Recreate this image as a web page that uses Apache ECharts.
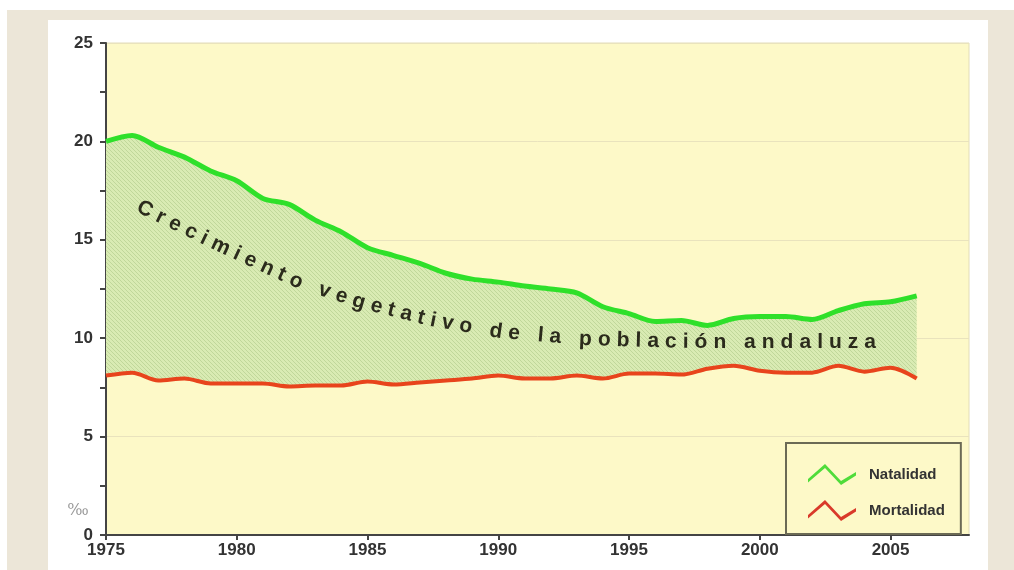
<!DOCTYPE html>
<html>
<head>
<meta charset="utf-8">
<script src="https://cdn.jsdelivr.net/npm/echarts@6/dist/echarts.min.js"></script>
<style>
  body { margin: 0; background: #fff; }
  #bg1 { position: absolute; left: 7px; top: 10px; width: 1007px; height: 560px; background: #ece6d8; }
  #bg2 { position: absolute; left: 48px; top: 20px; width: 940px; height: 550px; background: #fff; }
  #grafica { position: absolute; left: 0; top: 0; width: 1014px; height: 570px; }
</style>
</head>
<body>
<div id="bg1"></div>
<div id="bg2"></div>
<div id="grafica"></div>
<script>
// eje de 1975 a 2008, datos hasta 2006
const anios = ['1975', '1976', '1977', '1978', '1979', '1980', '1981', '1982', '1983', '1984', '1985', '1986',
  '1987', '1988', '1989', '1990', '1991', '1992', '1993', '1994', '1995', '1996', '1997', '1998', '1999', '2000',
  '2001', '2002', '2003', '2004', '2005', '2006', '2007', '2008'];
const natalidad = [20.0, 20.3, 19.7, 19.2, 18.5, 18.0, 17.1, 16.8, 16.0, 15.4, 14.6, 14.2, 13.8, 13.3, 13.0, 12.85,
  12.65, 12.5, 12.3, 11.6, 11.25, 10.85, 10.9, 10.65, 11.0, 11.1, 11.1, 10.95, 11.4, 11.75, 11.85, 12.15];
const mortalidad = [8.1, 8.25, 7.85, 7.95, 7.7, 7.7, 7.7, 7.55, 7.6, 7.6, 7.8, 7.65, 7.75, 7.85, 7.95, 8.1,
  7.95, 7.95, 8.1, 7.95, 8.2, 8.2, 8.15, 8.45, 8.6, 8.35, 8.25, 8.25, 8.6, 8.3, 8.5, 7.95];
const texto = 'Crecimiento vegetativo de la población andaluza';

// rayado del area entre las dos curvas
const rayado = () => {
  const c = document.createElement('canvas');
  c.width = 4; c.height = 4;
  const ctx = c.getContext('2d');
  ctx.fillStyle = '#d9ebb3';
  ctx.fillRect(0, 0, 4, 4);
  ctx.strokeStyle = '#c0d79a';
  ctx.lineWidth = 1;
  ctx.beginPath();
  ctx.moveTo(-1, -1); ctx.lineTo(5, 5);
  ctx.stroke();
  return c;
};

// texto curvo, letra por letra sobre una polilinea
const textoCurvo = (str, pts, font, color) => {
  const ctx = document.createElement('canvas').getContext('2d');
  ctx.font = font;
  const seg = [];
  let L = 0;
  for (let i = 1; i < pts.length; i++) {
    const dx = pts[i][0] - pts[i - 1][0], dy = pts[i][1] - pts[i - 1][1];
    const l = Math.hypot(dx, dy);
    seg.push({ a: pts[i - 1], dx, dy, l, s: L });
    L += l;
  }
  const at = s => {
    s = Math.max(0, Math.min(L - 1e-6, s));
    const g = seg.find(g => s < g.s + g.l) || seg[seg.length - 1];
    const t = (s - g.s) / g.l;
    return [g.a[0] + g.dx * t, g.a[1] + g.dy * t];
  };
  const chars = [...str];
  const w = chars.map(c => ctx.measureText(c).width);
  const W = w.reduce((a, b) => a + b, 0);
  const gap = (L - W) / (chars.length - 1);
  let s = 0;
  const els = [];
  chars.forEach((c, i) => {
    const sc = s + w[i] / 2;
    s += w[i] + gap;
    if (c === ' ') return;
    const p = at(sc), p1 = at(sc - 10), p2 = at(sc + 10);
    const ang = Math.atan2(p2[1] - p1[1], p2[0] - p1[0]);
    els.push({
      type: 'text', x: p[0], y: p[1], rotation: -ang, z: 100, silent: true,
      style: { text: c, font: font, fill: color, align: 'center', verticalAlign: 'middle' }
    });
  });
  return els;
};

const getOption = () => {
  const diferencia = natalidad.map((v, i) => +(v - mortalidad[i]).toFixed(2));
  const curva = [[138, 206], [220, 246], [300, 283], [360, 302], [430, 320], [500, 332], [580, 339], [680, 342], [876, 342]];
  return {
    animation: false,
    backgroundColor: 'transparent',
    textStyle: { fontFamily: '"Liberation Sans", Arial, sans-serif' },
    grid: {
      left: 106, top: 43, right: 45, bottom: 35,
      show: true, backgroundColor: '#fdf9c8', borderColor: '#e2ddb8', borderWidth: 1
    },
    xAxis: {
      type: 'category', data: anios, boundaryGap: false,
      axisLine: { lineStyle: { color: '#444', width: 2 } },
      axisTick: { show: true, length: 5, interval: 4, lineStyle: { color: '#444', width: 2 } },
      axisLabel: { interval: 4, color: '#333', fontWeight: 'bold', fontSize: 17, margin: 7 },
      splitLine: { show: false }
    },
    yAxis: {
      type: 'value', min: 0, max: 25, interval: 5,
      axisLine: { show: true, lineStyle: { color: '#444', width: 2 } },
      axisTick: { show: true, length: 6, lineStyle: { color: '#444', width: 2 } },
      minorTick: { show: true, splitNumber: 2, length: 6, lineStyle: { color: '#444', width: 2 } },
      axisLabel: { color: '#333', fontWeight: 'bold', fontSize: 17, margin: 13 },
      splitLine: { show: true, lineStyle: { color: '#e9e3bd', width: 1 } }
    },
    legend: {
      orient: 'vertical', left: 786, top: 443,
      padding: [21, 16, 13, 22], itemGap: 15, itemWidth: 48, itemHeight: 21,
      borderColor: '#6b6a55', borderWidth: 2, backgroundColor: '#fdf9c8',
      textStyle: { color: '#333', fontWeight: 'bold', fontSize: 15, padding: [0, 0, 0, 8] },
      data: [
        { name: 'Natalidad', icon: 'path://M0,15 L17,0 L33,17 L48,8 L48,11.5 L33,21 L17,4 L0,18.5 Z' },
        { name: 'Mortalidad', icon: 'path://M0,15 L17,0 L33,17 L48,8 L48,11.5 L33,21 L17,4 L0,18.5 Z' }
      ]
    },
    graphic: textoCurvo(texto, curva, 'bold 21px "Liberation Sans"', '#2b2b1c').concat([
      { type: 'text', x: 78, y: 511, z: 100, silent: true,
        style: { text: '‰', font: '16px "DejaVu Serif"', fill: '#9a9a9a', align: 'center', verticalAlign: 'middle' } }
    ]),
    series: [
      {
        name: 'base', type: 'line', stack: 'crec', smooth: 0.3, symbol: 'none', silent: true,
        data: mortalidad,
        lineStyle: { opacity: 0 }
      },
      {
        name: 'crecimiento', type: 'line', stack: 'crec', smooth: 0.3, symbol: 'none', silent: true,
        data: diferencia,
        lineStyle: { opacity: 0 },
        areaStyle: { color: { image: rayado(), repeat: 'repeat' }, opacity: 1 }
      },
      {
        name: 'Natalidad', type: 'line', smooth: 0.3, symbol: 'none', z: 5,
        data: natalidad,
        itemStyle: { color: '#4fdc3a' },
        lineStyle: { color: '#2fe02a', width: 5 }
      },
      {
        name: 'Mortalidad', type: 'line', smooth: 0.3, symbol: 'none', z: 5,
        data: mortalidad,
        itemStyle: { color: '#d93a2a' },
        lineStyle: { color: '#e8441c', width: 4 }
      }
    ]
  };
};

const initChart = () => {
  const chart = echarts.init(document.getElementById('grafica'));
  chart.setOption(getOption());
};

window.addEventListener('load', () => {
  initChart();
});
</script>
</body>
</html>
